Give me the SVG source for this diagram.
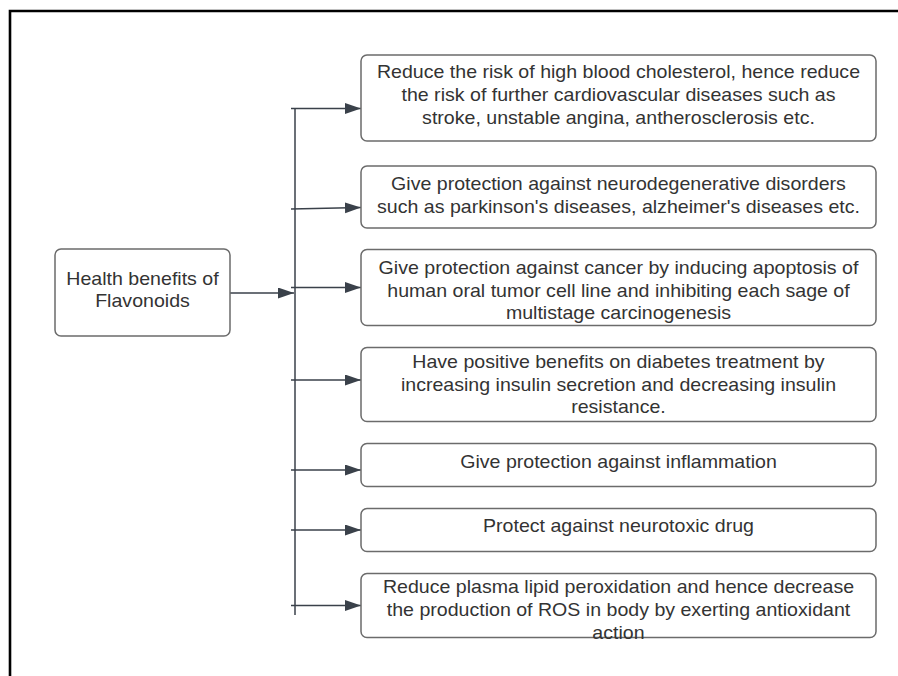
<svg xmlns="http://www.w3.org/2000/svg" width="898" height="676" viewBox="0 0 898 676">
<defs>
<marker id="arr" markerUnits="userSpaceOnUse" markerWidth="17" markerHeight="12" refX="16" refY="5.5" orient="auto">
<path d="M0,0 L16,5.5 L0,11 Z" fill="#3a414a"/>
</marker>
<style>
.box{fill:#ffffff;stroke:#6b6b6b;stroke-width:1.5}
.t{font-family:"Liberation Sans",Arial,sans-serif;font-size:17.8px;fill:#333333;text-anchor:middle}
.c{fill:none;stroke:#3a414a;stroke-width:1.5}
.ca{fill:none;stroke:#3a414a;stroke-width:1.5;marker-end:url(#arr)}
</style>
</defs>
<rect width="898" height="676" fill="#ffffff"/>
<path d="M10,676 L10,11 L898,11" fill="none" stroke="#000000" stroke-width="2.6"/>

<g id="connectors">
<path class="ca" d="M230,293 L294,293"/>
<path class="c" d="M295,108 L295,615"/>
<path class="ca" d="M291,108.5 L361,108.5"/>
<path class="ca" d="M291,209 L361,207.5"/>
<path class="ca" d="M291,287.5 L361,287.5"/>
<path class="ca" d="M291,380 L361,380"/>
<path class="ca" d="M291,470 L361,470"/>
<path class="ca" d="M291,530 L361,530"/>
<path class="ca" d="M291,605.5 L361,605.5"/>
</g>

<g id="main">
<rect class="box" x="55" y="249" width="175" height="87" rx="6"/>
<text class="t" transform="matrix(1.1 0 0 1 -14.25 0)"><tspan x="142.5" y="285">Health benefits of</tspan><tspan x="142.5" y="307.5">Flavonoids</tspan></text>
</g>

<g id="n1">
<rect class="box" x="361" y="55" width="515" height="86" rx="6"/>
<text class="t" transform="matrix(1.1 0 0 1 -61.85 0)"><tspan x="618.5" y="78">Reduce the risk of high blood cholesterol, hence reduce</tspan><tspan x="618.5" y="100.8">the risk of further cardiovascular diseases such as</tspan><tspan x="618.5" y="123.6">stroke, unstable angina, antherosclerosis etc.</tspan></text>
</g>

<g id="n2">
<rect class="box" x="361" y="166" width="515" height="62" rx="6"/>
<text class="t" transform="matrix(1.1 0 0 1 -61.85 0)"><tspan x="618.5" y="190">Give protection against neurodegenerative disorders</tspan><tspan x="618.5" y="212.8">such as parkinson's diseases, alzheimer's diseases etc.</tspan></text>
</g>

<g id="n3">
<rect class="box" x="361" y="249.5" width="515" height="76" rx="6"/>
<text class="t" transform="matrix(1.1 0 0 1 -61.85 0)"><tspan x="618.5" y="274.3">Give protection against cancer by inducing apoptosis of</tspan><tspan x="618.5" y="297">human oral tumor cell line and inhibiting each sage of</tspan><tspan x="618.5" y="319.5">multistage carcinogenesis</tspan></text>
</g>

<g id="n4">
<rect class="box" x="361" y="347.5" width="515" height="74" rx="6"/>
<text class="t" transform="matrix(1.1 0 0 1 -61.85 0)"><tspan x="618.5" y="368">Have positive benefits on diabetes treatment by</tspan><tspan x="618.5" y="391">increasing insulin secretion and decreasing insulin</tspan><tspan x="618.5" y="413.5">resistance.</tspan></text>
</g>

<g id="n5">
<rect class="box" x="361" y="443.5" width="515" height="43" rx="6"/>
<text class="t" transform="matrix(1.1 0 0 1 -61.85 0)"><tspan x="618.5" y="467.8">Give protection against inflammation</tspan></text>
</g>

<g id="n6">
<rect class="box" x="361" y="508.5" width="515" height="43" rx="6"/>
<text class="t" transform="matrix(1.1 0 0 1 -61.85 0)"><tspan x="618.5" y="532.5">Protect against neurotoxic drug</tspan></text>
</g>

<g id="n7">
<rect class="box" x="361" y="573.5" width="515" height="64" rx="6"/>
<text class="t" transform="matrix(1.1 0 0 1 -61.85 0)"><tspan x="618.5" y="593.5">Reduce plasma lipid peroxidation and hence decrease</tspan><tspan x="618.5" y="616.3">the production of ROS in body by exerting antioxidant</tspan><tspan x="618.5" y="639.3">action</tspan></text>
</g>
</svg>
